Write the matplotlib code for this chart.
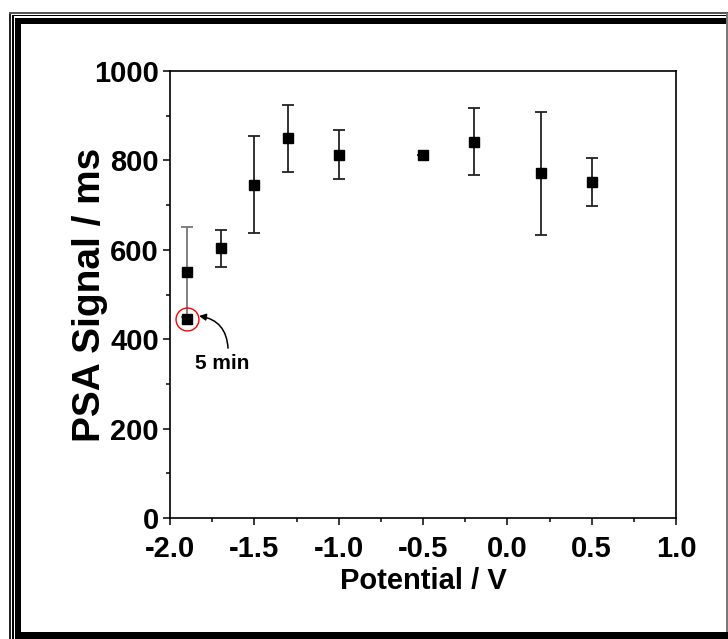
import matplotlib
matplotlib.use('Agg')
import matplotlib.pyplot as plt
from matplotlib.patches import Rectangle
import numpy as np

plt.rcParams['font.family'] = ['Liberation Sans', 'DejaVu Sans']
plt.rcParams['font.weight'] = 'bold'

# data
potential = [-1.9, -1.7, -1.5, -1.3, -1.0, -0.5, -0.2, 0.2, 0.5]
signal = [550, 603, 746, 849, 813, 811, 842, 771, 752]
signal_err = [100, 41, 108, 75, 54, 0, 75, 138, 54]
short_potential = [-1.9]
short_signal = [445]
short_label = '5 min'

x_ticks = [-2.0, -1.5, -1.0, -0.5, 0.0, 0.5, 1.0]
y_ticks = [0, 200, 400, 600, 800, 1000]

W, H = 728, 639
fig = plt.figure(figsize=(W / 100, H / 100), dpi=100)
ax = fig.add_axes([170 / W, 1 - 518 / H, 506 / W, 447 / H])

def fx(x):
    return x / W

def fy(y):
    return 1 - y / H

# picture frame (thin double line + heavy shadow band)
def rect(x0, y0, x1, y1, color='black'):
    fig.add_artist(Rectangle((fx(x0), fy(y1)), fx(x1) - fx(x0), fy(y0) - fy(y1),
                             transform=fig.transFigure, color=color, lw=0))

rect(9, 12, 10.5, 639, '#222222')
rect(9, 12, 728, 13.5, '#555555')
rect(12, 15, 13.5, 639)
rect(12, 15, 728, 16)
rect(15, 18, 21, 639)
rect(15, 18, 728, 24)
rect(15, 632, 728, 639)
rect(726, 13, 727.5, 632, '#777777')

# main series
ax.errorbar(potential[:1], signal[:1], yerr=signal_err[:1], fmt='none',
            ecolor='#777777', elinewidth=1.3, capsize=4, capthick=1.3)
ax.errorbar(potential[1:], signal[1:], yerr=signal_err[1:], fmt='none',
            ecolor='#222222', elinewidth=1.3, capsize=4, capthick=1.3)
ax.plot(potential, signal, 's', color='black', ms=6.5, zorder=3)
ax.plot(short_potential, short_signal, 's', color='black', ms=6.5, zorder=3)
ax.plot(short_potential, short_signal, 'o', mfc='none', mec='red', mew=1.0, ms=16.5, zorder=4)

# "5 min" note with curved arrow to the circled point
ax.text(-1.692, 345, short_label, ha='center', va='center', fontsize=15, fontweight='bold')
ax.annotate('', xy=(-1.828, 452), xytext=(-1.656, 380),
            arrowprops=dict(arrowstyle='-|>', color='black', lw=1.1,
                            connectionstyle='arc3,rad=0.4', shrinkA=0, shrinkB=0,
                            mutation_scale=10))

ax.set_xlim(-2.0, 1.0)
ax.set_ylim(0, 1000)
ax.set_xticks(x_ticks)
ax.set_xticklabels(['%.1f' % v for v in x_ticks])
ax.set_yticks(y_ticks)
ax.set_xticks(np.arange(-1.75, 1.0, 0.5), minor=True)
ax.set_yticks(np.arange(100, 1000, 200), minor=True)

for s in ax.spines.values():
    s.set_linewidth(1.2)
ax.tick_params(which='major', direction='out', length=5, width=1.1, labelsize=21)
ax.tick_params(axis='x', which='major', pad=7)
ax.tick_params(axis='y', which='major', pad=3)
ax.tick_params(which='minor', direction='out', length=3, width=1.1)
ax.tick_params(top=False, right=False, which='both')
for lab in ax.get_xticklabels() + ax.get_yticklabels():
    lab.set_fontweight('bold')

ax.set_xlabel('Potential / V', fontsize=21, fontweight='bold', labelpad=3)
ax.set_ylabel('PSA Signal / ms', fontsize=28, fontweight='bold')
ax.yaxis.set_label_coords(-0.122, 0.5)

fig.savefig('out.png', dpi=100)
